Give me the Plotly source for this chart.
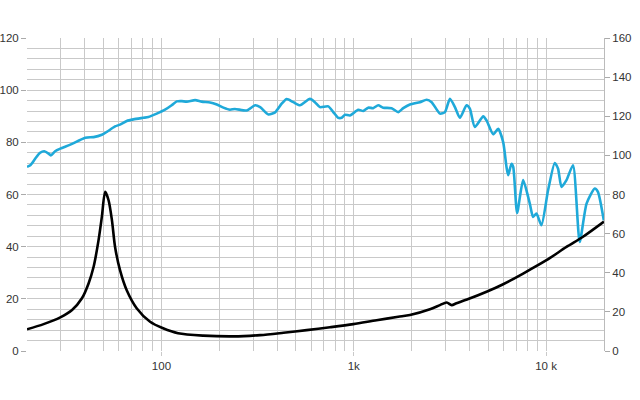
import plotly.graph_objects as go

# Frequency response (left axis, dB)
spl_freq = [20, 20.8, 22.1, 23.4, 24.6, 25.9, 26.6, 28.0, 29.8, 33.6, 40.2, 44.4, 49.0, 52.0, 57.4,
            60.9, 66.0, 71.5, 80.6, 85.5, 94.5, 104.4, 113, 120, 127.6, 135.5, 149.7, 162, 179, 194,
            210, 227, 241, 278, 307, 326, 360, 390, 422, 448, 485, 525, 592, 628, 667, 737, 782,
            830, 865, 900, 955, 1055, 1120, 1189, 1262, 1340, 1422, 1573, 1703, 1808, 1959, 2208,
            2393, 2540, 2806, 2979, 3162, 3357, 3564, 3858, 4014, 4261, 4711, 4901, 5307, 5634,
            5981, 6226, 6352, 6608, 6750, 7067, 7596, 8228, 8557, 8908, 9455, 10240, 11090, 11540,
            12020, 12760, 13800, 14950, 16230, 17910, 18600, 19950]
spl_db = [70.6, 71.2, 73.8, 76.0, 76.6, 75.7, 75.0, 76.6, 77.6, 79.1, 81.8, 82.0, 82.9, 84.0, 86.1,
          86.8, 88.2, 88.8, 89.4, 89.7, 91.0, 92.5, 94.2, 95.7, 95.8, 95.6, 96.2, 95.6, 95.3, 94.5,
          93.3, 92.5, 92.8, 92.2, 94.2, 93.5, 90.7, 91.5, 94.8, 96.6, 95.4, 94.2, 96.7, 95.4, 93.5,
          93.8, 91.6, 89.4, 89.4, 90.6, 90.3, 92.5, 92.0, 93.3, 93.1, 94.2, 93.3, 93.1, 91.6, 93.1,
          94.5, 95.4, 96.3, 95.4, 91.0, 91.6, 96.7, 93.5, 89.4, 94.2, 92.9, 85.9, 90.0, 88.4, 83.1,
          85.2, 80.1, 70.5, 67.4, 71.8, 70.5, 52.9, 65.5, 56.5, 51.4, 52.7, 48.2, 61.6, 72.1, 69.9,
          62.9, 65.5, 71.2, 41.8, 56.5, 62.3, 61.0, 50.1]

# Impedance curve (plotted in left-axis units)
imp_freq = [20, 24.4, 29.8, 34.3, 38.6, 41.8, 44.4, 47.1, 49.0, 51.0, 53.1, 55.3, 57.4, 60.9, 66.0,
            74.5, 87.3, 102, 122, 165, 237, 326, 431, 569, 752, 994, 1314, 1703, 1959, 2489, 2806,
            3041, 3228, 3420, 3936, 4901, 5981, 7596, 10040, 12760, 15560, 20000]
imp_val = [8.3, 10.3, 12.9, 15.7, 20.2, 25.9, 32.3, 42.5, 51.4, 61.0, 57.8, 50.1, 39.9, 31.0, 23.3,
           16.3, 11.2, 8.7, 6.8, 5.9, 5.6, 6.1, 7.0, 8.0, 9.1, 10.3, 11.8, 13.1, 13.8, 16.0, 17.6,
           18.6, 17.6, 18.3, 19.9, 22.7, 25.6, 29.7, 34.8, 39.9, 43.8, 49.6]

x_tick_vals = [100, 1000, 10000]
x_tick_text = ["100", "1k", "10 k"]
x_grid_vals = [20, 30, 40, 50, 60, 70, 80, 90, 200, 300, 400, 500, 600, 700, 800, 900,
               2000, 3000, 4000, 5000, 6000, 7000, 8000, 9000, 20000]
left_ticks = [0, 20, 40, 60, 80, 100, 120]
right_ticks = [0, 20, 40, 60, 80, 100, 120, 140, 160]

grid = "#c9c9c9"
font = dict(family="Liberation Sans, Arial, sans-serif", size=11.5, color="#333333")

fig = go.Figure()
fig.add_trace(go.Scatter(x=spl_freq, y=spl_db, mode="lines",
                         line=dict(color="#1fa9d9", width=2.6, shape="spline", smoothing=0.6),
                         hoverinfo="skip", showlegend=False))
fig.add_trace(go.Scatter(x=imp_freq, y=imp_val, mode="lines",
                         line=dict(color="#000000", width=2.6, shape="spline", smoothing=0.8),
                         hoverinfo="skip", showlegend=False))
# invisible trace to activate right axis
fig.add_trace(go.Scatter(x=[20, 20000], y=[0, 160], yaxis="y2", mode="lines",
                         line=dict(width=0), opacity=0, hoverinfo="skip", showlegend=False))

fig.update_layout(
    width=640, height=400,
    margin=dict(l=27, r=36, t=38, b=49, autoexpand=False),
    paper_bgcolor="white", plot_bgcolor="white",
    font=font,
    xaxis=dict(type="log", range=[1.30103, 4.30103], automargin=False,
               tickvals=x_tick_vals, ticktext=x_tick_text,
               showgrid=True, gridcolor=grid, gridwidth=1,
               ticks="outside", ticklen=4, tickcolor=grid,
               minor=dict(tickvals=x_grid_vals, showgrid=True, gridcolor=grid, gridwidth=1, ticks=""),
               zeroline=False, showline=False, tickfont=font),
    yaxis=dict(range=[0, 120], tickvals=left_ticks, automargin=False,
               showgrid=True, gridcolor=grid, gridwidth=1,
               ticks="outside", ticklen=5, tickcolor="#aaaaaa",
               minor=dict(dtick=4, showgrid=True, gridcolor=grid, gridwidth=1, ticks=""),
               zeroline=False, showline=False, tickfont=font),
    yaxis2=dict(range=[0, 160], tickvals=right_ticks, overlaying="y", side="right",
                automargin=False,
                showgrid=False, ticks="outside", ticklen=5, tickcolor="#aaaaaa",
                showline=True, linecolor="#bbbbbb", linewidth=1,
                zeroline=False, tickfont=font),
)

fig.write_html("out.html", config={"displayModeBar": False},
               post_script="document.body.style.margin='0';")
